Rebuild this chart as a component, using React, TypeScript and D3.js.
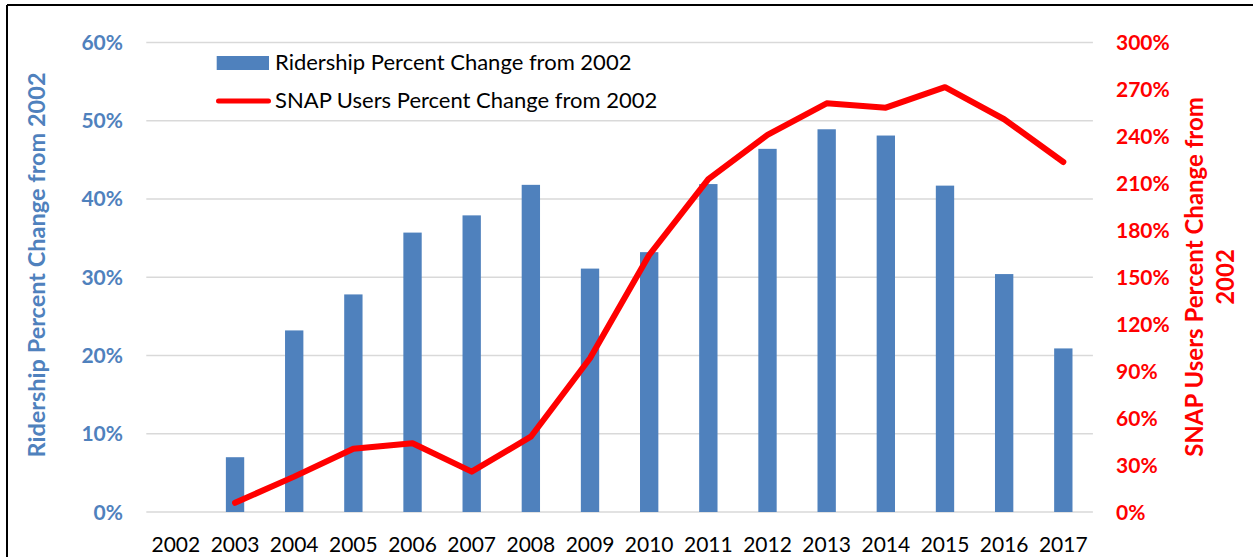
import React from "react";
import * as d3 from "d3";

const years = ["2002","2003","2004","2005","2006","2007","2008","2009","2010","2011","2012","2013","2014","2015","2016","2017"];
const ridership = [0, 7.0, 23.2, 27.8, 35.7, 37.9, 41.8, 31.1, 33.2, 41.9, 46.4, 48.9, 48.1, 41.7, 30.4, 20.9];
const snap: (number | null)[] = [null, 5.9, 22.6, 40.4, 43.9, 25.8, 48.1, 98.2, 164.2, 212.6, 240.9, 261.1, 258.3, 271.4, 250.9, 223.6];
const leftTicks = [0, 10, 20, 30, 40, 50, 60];
const rightTicks = [0, 30, 60, 90, 120, 150, 180, 210, 240, 270, 300];
const legendLabels = ["Ridership Percent Change from 2002", "SNAP Users Percent Change from 2002"];
const leftTitle = "Ridership Percent Change from 2002";
const rightTitle = ["SNAP Users Percent Change from", "2002"];

const W = 1253, H = 557;
const plotL = 146.3, plotR = 1092.9, plotT = 42.4, plotB = 512;
const BLUE = "#4F81BD";
const RED = "#FF0000";
const FONT = "Lato, 'Open Sans', sans-serif";

export default function App() {
  const x = d3.scaleBand<string>().domain(years).range([plotL, plotR]).paddingInner(0.69).paddingOuter(0.345);
  const yL = d3.scaleLinear().domain([0, 60]).range([plotB, plotT]);
  const yR = d3.scaleLinear().domain([0, 300]).range([plotB, plotT]);
  const bw = x.bandwidth();
  const cx = (y: string) => (x(y) as number) + bw / 2;
  const lineGen = d3.line<number | null>()
    .defined((d) => d != null)
    .x((_, i) => cx(years[i]))
    .y((d) => yR(d as number));

  return (
    <svg width={W} height={H} style={{ position: "absolute", left: 0, top: 0, display: "block" }} fontFamily={FONT}>
      <rect x={0} y={0} width={W} height={H} fill="#fff" />
      {/* border */}
      <line x1={7} y1={5} x2={W} y2={5} stroke="#000" strokeWidth={2} />
      <line x1={7} y1={5} x2={7} y2={H} stroke="#000" strokeWidth={2} />
      {/* gridlines */}
      {leftTicks.map((t) => (
        <line key={t} x1={plotL} x2={plotR} y1={yL(t)} y2={yL(t)} stroke="#D9D9D9" strokeWidth={1.5} />
      ))}
      {/* bars */}
      {ridership.map((v, i) => (
        <rect key={years[i]} x={x(years[i])} y={yL(v)} width={bw} height={plotB - yL(v)} fill={BLUE} />
      ))}
      {/* line */}
      <path d={lineGen(snap) || ""} fill="none" stroke={RED} strokeWidth={6} strokeLinejoin="round" strokeLinecap="round" />
      {/* left ticks */}
      {leftTicks.map((t) => (
        <text key={t} x={123} y={yL(t)} dy="0.36em" textAnchor="end" fontSize={21} fontWeight="bold" fill={BLUE}>{t}%</text>
      ))}
      {/* right ticks */}
      {rightTicks.map((t) => (
        <text key={t} x={1116} y={yR(t)} dy="0.36em" textAnchor="start" fontSize={21} fontWeight="bold" fill={RED}>{t}%</text>
      ))}
      {/* x labels */}
      {years.map((yr) => (
        <text key={yr} x={cx(yr)} y={552} textAnchor="middle" fontSize={21} fill="#000">{yr}</text>
      ))}
      {/* left title */}
      <text transform="translate(45,265) rotate(-90)" textAnchor="middle" fontSize={23.5} fontWeight="bold" fill={BLUE}>{leftTitle}</text>
      {/* right title */}
      <text transform="translate(1203.4,277) rotate(-90)" textAnchor="middle" fontSize={24} fontWeight="bold" fill={RED}>{rightTitle[0]}</text>
      <text transform="translate(1234,277) rotate(-90)" textAnchor="middle" fontSize={24} fontWeight="bold" fill={RED}>{rightTitle[1]}</text>
      {/* legend */}
      <rect x={216.7} y={56} width={52.3} height={14} fill={BLUE} />
      <text x={275} y={70} fontSize={22} fill="#000">{legendLabels[0]}</text>
      <line x1={218.5} x2={268.5} y1={101} y2={101} stroke={RED} strokeWidth={5} strokeLinecap="round" />
      <text x={275} y={108} fontSize={22} fill="#000">{legendLabels[1]}</text>
    </svg>
  );
}
